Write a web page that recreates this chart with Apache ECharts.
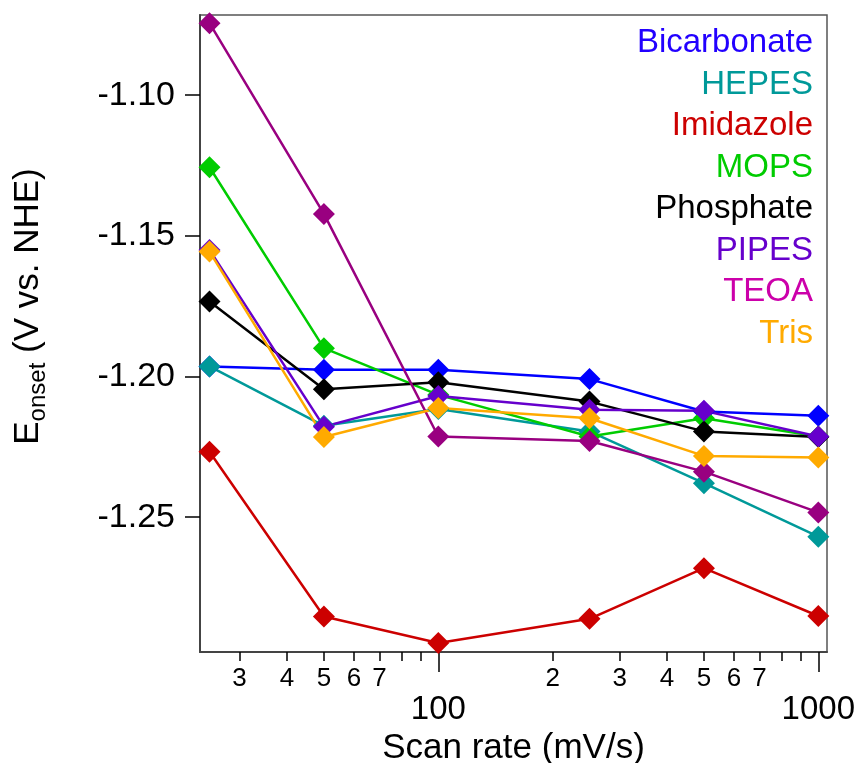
<!DOCTYPE html>
<html><head><meta charset="utf-8">
<script src="https://cdn.jsdelivr.net/npm/echarts@6/dist/echarts.min.js"></script>
<style>html,body{margin:0;padding:0;background:#fff}#c{width:863px;height:763px}</style>
</head><body><div id="c"></div>
<script>
// ---- data ----
const scanRates = [25, 50, 100, 250, 500, 1000];
const seriesNames = ['Bicarbonate', 'HEPES', 'Imidazole', 'MOPS', 'Phosphate', 'PIPES', 'TEOA', 'Tris'];
const bicarbonate = [-1.1964, -1.1976, -1.1976, -1.2009, -1.2124, -1.2139];
const hepes       = [-1.1964, -1.2175, -1.2115, -1.2195, -1.2379, -1.2569];
const imidazole   = [-1.2267, -1.2853, -1.2947, -1.2861, -1.2681, -1.2851];
const mops        = [-1.1256, -1.1899, -1.2065, -1.2213, -1.2148, -1.2213];
const phosphate   = [-1.1733, -1.2045, -1.2020, -1.2089, -1.2195, -1.2215];
const pipes       = [-1.1550, -1.2178, -1.2069, -1.2118, -1.2122, -1.2213];
const teoa        = [-1.0744, -1.1422, -1.2213, -1.2229, -1.2338, -1.2483];
const tris        = [-1.1556, -1.2215, -1.2112, -1.2148, -1.2282, -1.2288];
const allValues = [bicarbonate, hepes, imidazole, mops, phosphate, pipes, teoa, tris];
const lineColors = ['#0000ff', '#009999', '#cc0000', '#00cc00', '#000000', '#6600cc', '#990080', '#ffaa00'];
const textColors = ['#2200ff', '#009999', '#cc0000', '#00cc00', '#000000', '#6600cc', '#cc00aa', '#ffaa00'];
const xMin = 23.6, xMax = 1054;
const yMin = -1.2979, yMax = -1.0715;
const minorTickValues = [30, 40, 50, 60, 70, 80, 90, 200, 300, 400, 500, 600, 700, 800, 900];
const minorLabelValues = [30, 40, 50, 60, 70, 200, 300, 400, 500, 600, 700];
const majorTickValues = [100, 1000];
const yTickValues = [-1.25, -1.20, -1.15, -1.10];

const FONT = '"Liberation Sans", Arial, sans-serif';
const chart = echarts.init(document.getElementById('c'));

const legends = seriesNames.map((name, i) => ({
  right: 50, top: 25 + i * 41.5, orient: 'vertical', align: 'left',
  padding: 0, itemWidth: 0, itemHeight: 0, itemGap: 0, selectedMode: false,
  itemStyle: { opacity: 0 }, lineStyle: { opacity: 0 },
  textStyle: { fontSize: 33, fontFamily: FONT, lineHeight: 36, color: textColors[i], padding: 0 },
  data: [{ name: name, textStyle: { color: textColors[i] } }]
}));

const series = seriesNames.map((name, i) => ({
  name: name, type: 'line', xAxisIndex: 0, yAxisIndex: 0,
  data: scanRates.map((x, j) => [x, allValues[i][j]]),
  symbol: 'diamond', symbolSize: 22, clip: false,
  color: lineColors[i],
  itemStyle: { color: lineColors[i] },
  lineStyle: { color: lineColors[i], width: 2.5 },
  emphasis: { disabled: true }
}));

const leading = v => String(Math.round(v / Math.pow(10, Math.floor(Math.log10(v) + 1e-9))));

chart.setOption({
  animation: false,
  backgroundColor: '#fff',
  grid: { left: 200, top: 15, right: 36, bottom: 111, show: true, borderColor: '#555', borderWidth: 1.5,
          containLabel: false, outerBoundsMode: 'none' },
  legend: legends,
  xAxis: [
    {
      type: 'log', logBase: 10, min: xMin, max: xMax, position: 'bottom', gridIndex: 0,
      axisLine: { show: true, onZero: false, lineStyle: { color: '#444', width: 2 } },
      axisTick: { show: true, inside: false, length: 9, customValues: minorTickValues, lineStyle: { color: '#000', width: 1.5 } },
      axisLabel: { show: true, customValues: minorLabelValues, formatter: leading, fontSize: 26, fontFamily: FONT, color: '#000', margin: 14 },
      splitLine: { show: false }, minorTick: { show: false }
    },
    {
      type: 'log', logBase: 10, min: xMin, max: xMax, position: 'bottom', gridIndex: 0,
      axisLine: { show: false, onZero: false },
      axisTick: { show: true, inside: false, length: 20, customValues: majorTickValues, lineStyle: { color: '#000', width: 1.5 } },
      axisLabel: { show: true, customValues: majorTickValues, formatter: v => String(Math.round(v)), fontSize: 33, fontFamily: FONT, color: '#000', margin: 41 },
      splitLine: { show: false },
      name: 'Scan rate (mV/s)', nameLocation: 'middle', nameGap: 76,
      nameTextStyle: { fontSize: 35, fontFamily: FONT, color: '#000' }
    }
  ],
  yAxis: [{
    type: 'value', min: yMin, max: yMax, position: 'left',
    axisLine: { show: true, onZero: false, lineStyle: { color: '#444', width: 2 } },
    axisTick: { show: true, inside: false, length: 15, customValues: yTickValues, lineStyle: { color: '#000', width: 1.5 } },
    axisLabel: { show: true, customValues: yTickValues, formatter: v => v.toFixed(2), fontSize: 34, fontFamily: FONT, color: '#000', margin: 25 },
    splitLine: { show: false },
    name: '{m|E}{s|onset}{m| (V vs. NHE)}', nameLocation: 'middle', nameRotate: 90, nameGap: 150,
    nameTextStyle: {
      fontFamily: FONT, color: '#000', padding: [0, 0, 0, 54],
      rich: {
        m: { fontSize: 35, fontFamily: FONT, color: '#000', lineHeight: 44 },
        s: { fontSize: 24, fontFamily: FONT, color: '#000', lineHeight: 14, verticalAlign: 'bottom' }
      }
    }
  }],
  series: series
});
</script>
</body></html>
